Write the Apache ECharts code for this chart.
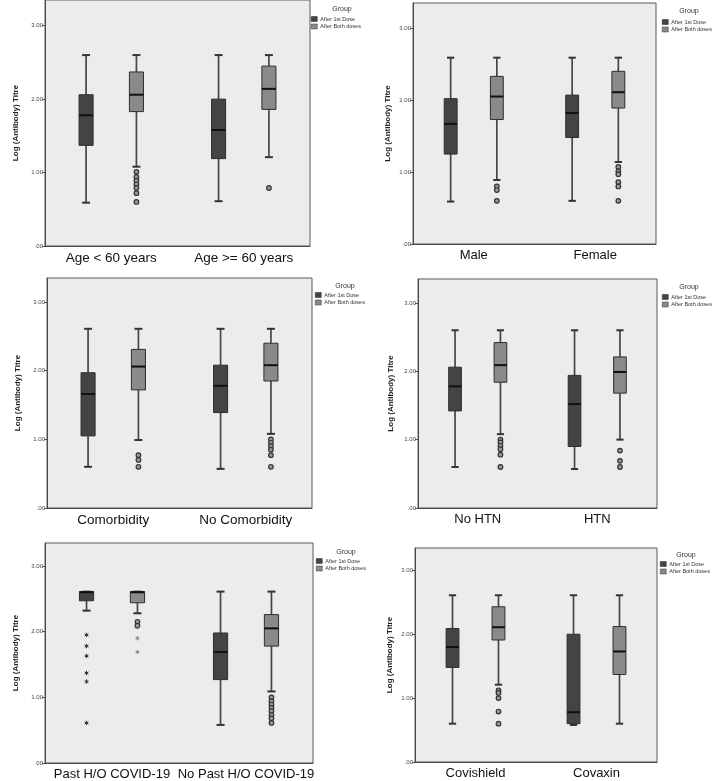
<!DOCTYPE html>
<html><head><meta charset="utf-8">
<script src="https://cdn.jsdelivr.net/npm/echarts@6/dist/echarts.min.js"></script>
<style>html,body{margin:0;padding:0;background:#fff}#c{width:721px;height:781px}</style>
</head><body><div id="c"></div>
<script>
// ---------- DATA (box = [min, Q1, median, Q3, max]) ----------
const yTickValues = [0, 1, 2, 3];
const groupNames = ['After 1st Dose', 'After Both doses'];

const categories1 = ['Age < 60 years', 'Age >= 60 years'];
const first1 = [[0.59, 1.37, 1.78, 2.06, 2.60], [0.61, 1.19, 1.58, 2.00, 2.60]];
const both1 = [[1.08, 1.83, 2.06, 2.37, 2.60], [1.21, 1.86, 2.14, 2.45, 2.60]];
const outBoth1 = [[0, 1.01], [0, 0.94], [0, 0.89], [0, 0.84], [0, 0.79], [0, 0.72], [0, 0.60], [1, 0.79]];

const categories2 = ['Male', 'Female'];
const first2 = [[0.59, 1.25, 1.67, 2.02, 2.59], [0.60, 1.48, 1.82, 2.07, 2.59]];
const both2 = [[0.89, 1.73, 2.05, 2.33, 2.59], [1.14, 1.89, 2.11, 2.40, 2.59]];
const outBoth2 = [[0, 0.80], [0, 0.75], [0, 0.60], [1, 1.07], [1, 1.01], [1, 0.97], [1, 0.86], [1, 0.80], [1, 0.60]];

const categories3 = ['Comorbidity', 'No Comorbidity'];
const first3 = [[0.60, 1.05, 1.66, 1.97, 2.61], [0.57, 1.39, 1.78, 2.08, 2.61]];
const both3 = [[0.99, 1.72, 2.06, 2.31, 2.61], [1.08, 1.85, 2.08, 2.40, 2.61]];
const outBoth3 = [[0, 0.77], [0, 0.70], [0, 0.60], [1, 1.00], [1, 0.95], [1, 0.90], [1, 0.85], [1, 0.77], [1, 0.60]];

const categories4 = ['No HTN', 'HTN'];
const first4 = [[0.60, 1.42, 1.78, 2.06, 2.60], [0.57, 0.90, 1.52, 1.94, 2.60]];
const both4 = [[1.08, 1.84, 2.09, 2.42, 2.60], [1.00, 1.68, 1.99, 2.21, 2.60]];
const outBoth4 = [[0, 1.00], [0, 0.96], [0, 0.91], [0, 0.86], [0, 0.78], [0, 0.60], [1, 0.84], [1, 0.69], [1, 0.60]];

const categories5 = ['Past H/O COVID-19', 'No Past H/O COVID-19'];
const first5 = [[2.32, 2.47, 2.60, 2.61, 2.61], [0.58, 1.27, 1.69, 1.98, 2.61]];
const both5 = [[2.28, 2.44, 2.60, 2.61, 2.61], [1.09, 1.78, 2.05, 2.26, 2.61]];
const outBoth5 = [[0, 2.15], [0, 2.09], [1, 1.00], [1, 0.94], [1, 0.89], [1, 0.84], [1, 0.79], [1, 0.73], [1, 0.68], [1, 0.61]];
const starsFirst5 = [[0, 1.95], [0, 1.78], [0, 1.63], [0, 1.37], [0, 1.24], [0, 0.61]];
const starsBoth5 = [[0, 1.90], [0, 1.69]];

const categories6 = ['Covishield', 'Covaxin'];
const first6 = [[0.60, 1.48, 1.80, 2.09, 2.61], [0.58, 0.60, 0.78, 2.00, 2.61]];
const both6 = [[1.21, 1.91, 2.11, 2.43, 2.61], [0.60, 1.37, 1.73, 2.12, 2.61]];
const outBoth6 = [[0, 1.12], [0, 1.08], [0, 1.00], [0, 0.79], [0, 0.60]];

const panels = [
  {cats: categories1, first: first1, both: both1, outFirst: [], outBoth: outBoth1, starsFirst: [], starsBoth: []},
  {cats: categories2, first: first2, both: both2, outFirst: [], outBoth: outBoth2, starsFirst: [], starsBoth: []},
  {cats: categories3, first: first3, both: both3, outFirst: [], outBoth: outBoth3, starsFirst: [], starsBoth: []},
  {cats: categories4, first: first4, both: both4, outFirst: [], outBoth: outBoth4, starsFirst: [], starsBoth: []},
  {cats: categories5, first: first5, both: both5, outFirst: [], outBoth: outBoth5, starsFirst: starsFirst5, starsBoth: starsBoth5},
  {cats: categories6, first: first6, both: both6, outFirst: [], outBoth: outBoth6, starsFirst: [], starsBoth: []}
];

// ---------- LAYOUT / STYLE ----------
const layout = [
  {left: 45, top: 0, width: 265, height: 246, nameGap: 25, fs: 13.5, lg: [311, 16], grp: [342, 9]},
  {left: 413, top: 3, width: 243, height: 241, nameGap: 21, fs: 13, lg: [662, 19], grp: [689, 11]},
  {left: 47, top: 278, width: 265, height: 230, nameGap: 25, fs: 13.5, lg: [315, 292], grp: [345, 286]},
  {left: 418, top: 279, width: 239, height: 229, nameGap: 23, fs: 13, lg: [662, 294], grp: [689, 287]},
  {left: 45, top: 543, width: 268, height: 220, nameGap: 25, fs: 13, lg: [316, 558], grp: [346, 552]},
  {left: 415, top: 548, width: 242, height: 214, nameGap: 21, fs: 13, lg: [660, 561], grp: [686, 555]}
];
const COL_FIRST = '#444444', COL_BOTH = '#8a8a8a';
const OFFSET = 0.19, HALF_BOX = 0.053, CAP = 0.03;

function boxRender(side, fill) {
  return function (params, api) {
    const cat = api.value(0);
    const bw = api.size([1, 0])[0];
    const c = api.coord([cat, 0])[0] + side * bw * OFFSET;
    const h = bw * HALF_BOX, cap = bw * CAP;
    const y = i => api.coord([cat, api.value(i)])[1];
    const ymin = y(1), yq1 = y(2), ymed = y(3), yq3 = y(4), ymax = y(5);
    const ws = {stroke: '#464646', lineWidth: 1.7};
    return {type: 'group', children: [
      {type: 'line', shape: {x1: c, y1: ymax, x2: c, y2: yq3}, style: ws},
      {type: 'line', shape: {x1: c, y1: yq1, x2: c, y2: ymin}, style: ws},
      {type: 'line', shape: {x1: c - cap, y1: ymax, x2: c + cap, y2: ymax}, style: {stroke: '#333', lineWidth: 2}},
      {type: 'line', shape: {x1: c - cap, y1: ymin, x2: c + cap, y2: ymin}, style: {stroke: '#333', lineWidth: 2}},
      {type: 'rect', shape: {x: c - h, y: yq3, width: 2 * h, height: yq1 - yq3}, style: {fill: fill, stroke: '#2e2e2e', lineWidth: 1}},
      {type: 'line', shape: {x1: c - h, y1: ymed, x2: c + h, y2: ymed}, style: {stroke: '#111', lineWidth: 2}}
    ]};
  };
}
function circleRender(side) {
  return function (params, api) {
    const cat = api.value(0);
    const bw = api.size([1, 0])[0];
    const p = api.coord([cat, api.value(1)]);
    return {type: 'circle', shape: {cx: p[0] + side * bw * OFFSET, cy: p[1], r: 2.3},
      style: {fill: '#9a9a9a', stroke: '#333', lineWidth: 1.2}};
  };
}
function starRender(side, color) {
  return function (params, api) {
    const cat = api.value(0);
    const bw = api.size([1, 0])[0];
    const p = api.coord([cat, api.value(1)]);
    const cx = p[0] + side * bw * OFFSET, cy = p[1], r = 2.2;
    const st = {stroke: color, lineWidth: 1};
    return {type: 'group', children: [
      {type: 'line', shape: {x1: cx, y1: cy - r, x2: cx, y2: cy + r}, style: st},
      {type: 'line', shape: {x1: cx - r * 0.87, y1: cy - r / 2, x2: cx + r * 0.87, y2: cy + r / 2}, style: st},
      {type: 'line', shape: {x1: cx - r * 0.87, y1: cy + r / 2, x2: cx + r * 0.87, y2: cy - r / 2}, style: st}
    ]};
  };
}

const grid = [], xAxis = [], yAxis = [], series = [], legend = [], graphic = [];
panels.forEach((pd, i) => {
  const L = layout[i];
  grid.push({left: L.left, top: L.top, width: L.width, height: L.height, show: true,
    backgroundColor: '#ececec', borderColor: '#5a5a5a', borderWidth: 1});
  xAxis.push({type: 'category', gridIndex: i, data: pd.cats,
    axisLine: {lineStyle: {color: '#4a4a4a', width: 1}},
    axisTick: {alignWithLabel: true, length: 4, lineStyle: {color: '#333'}},
    axisLabel: {fontSize: L.fs, color: '#111', margin: 5, fontFamily: 'Liberation Sans, Arial, sans-serif', interval: 0},
    splitLine: {show: false}});
  yAxis.push({type: 'value', gridIndex: i, min: 0, max: 3.35, interval: 1,
    name: 'Log (Antibody) Titre', nameLocation: 'middle', nameRotate: 90, nameGap: L.nameGap,
    nameTextStyle: {fontSize: 8, fontWeight: 'bold', color: '#222', fontFamily: 'Liberation Sans, Arial, sans-serif'},
    axisLine: {show: true, lineStyle: {color: '#4a4a4a', width: 1}},
    axisTick: {show: true, length: 3, customValues: yTickValues, lineStyle: {color: '#555'}},
    axisLabel: {fontSize: 6, color: '#444', margin: 2, customValues: yTickValues,
      formatter: v => v === 0 ? '.00' : v.toFixed(2)},
    splitLine: {show: false}});
  const ax = {xAxisIndex: i, yAxisIndex: i, silent: true, z: 3};
  series.push(Object.assign({type: 'custom', name: groupNames[0], itemStyle: {color: COL_FIRST},
    data: pd.first.map((d, k) => [k].concat(d)), encode: {x: 0, y: [1, 2, 3, 4, 5]},
    renderItem: boxRender(-1, COL_FIRST)}, ax));
  series.push(Object.assign({type: 'custom', name: groupNames[1], itemStyle: {color: COL_BOTH},
    data: pd.both.map((d, k) => [k].concat(d)), encode: {x: 0, y: [1, 2, 3, 4, 5]},
    renderItem: boxRender(1, COL_BOTH)}, ax));
  if (pd.outFirst.length) series.push(Object.assign({type: 'custom', name: 'outliers', data: pd.outFirst,
    encode: {x: 0, y: 1}, renderItem: circleRender(-1)}, ax));
  if (pd.outBoth.length) series.push(Object.assign({type: 'custom', name: 'outliers', data: pd.outBoth,
    encode: {x: 0, y: 1}, renderItem: circleRender(1)}, ax));
  if (pd.starsFirst.length) series.push(Object.assign({type: 'custom', name: 'extremes', data: pd.starsFirst,
    encode: {x: 0, y: 1}, renderItem: starRender(-1, '#333')}, ax));
  if (pd.starsBoth.length) series.push(Object.assign({type: 'custom', name: 'extremes', data: pd.starsBoth,
    encode: {x: 0, y: 1}, renderItem: starRender(1, '#8a8a8a')}, ax));
  legend.push({orient: 'vertical', left: L.lg[0], top: L.lg[1], padding: 0, itemGap: 1.5,
    itemWidth: 6, itemHeight: 5, selectedMode: false, icon: 'rect',
    textStyle: {fontSize: 5.5, color: '#333', padding: [0, 0, 0, -2]},
    data: [{name: groupNames[0], itemStyle: {color: COL_FIRST, borderColor: '#222', borderWidth: 0.5}},
           {name: groupNames[1], itemStyle: {color: COL_BOTH, borderColor: '#333', borderWidth: 0.5}}]});
  graphic.push({type: 'text', x: L.grp[0], y: L.grp[1],
    style: {text: 'Group', fontSize: 7, fill: '#333', align: 'center', verticalAlign: 'middle',
      fontFamily: 'Liberation Sans, Arial, sans-serif'}});
});

const chart = echarts.init(document.getElementById('c'), null, {renderer: 'canvas'});
chart.setOption({animation: false, backgroundColor: '#fff',
  textStyle: {fontFamily: 'Liberation Sans, Arial, sans-serif'},
  grid, xAxis, yAxis, series, legend, graphic});
</script></body></html>
